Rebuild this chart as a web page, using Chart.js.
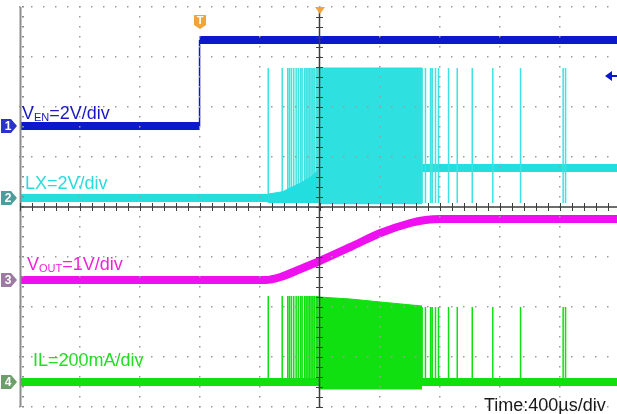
<!DOCTYPE html>
<html><head><meta charset="utf-8">
<script src="https://cdn.jsdelivr.net/npm/chart.js@4/dist/chart.umd.min.js"></script>
<style>
html,body{margin:0;padding:0;background:#fff;width:617px;height:414px;overflow:hidden;}
#wrap{position:relative;width:617px;height:414px;overflow:hidden;}
canvas{position:absolute;left:0;top:0;}
.lbl{position:absolute;font-family:"Liberation Sans",Arial,sans-serif;font-size:18px;white-space:nowrap;line-height:1;}
.lbl sub{font-size:11px;vertical-align:baseline;position:relative;top:2px;}
</style></head><body>
<div id="wrap">
<canvas id="c" width="620" height="414"></canvas>
<div class="lbl" style="left:22px;top:104px;color:#1818c8">V<sub>EN</sub>=2V/div</div>
<div class="lbl" style="left:25px;top:174px;color:#2adcdc">LX=2V/div</div>
<div class="lbl" style="left:27px;top:255px;color:#ee22d8">V<sub>OUT</sub>=1V/div</div>
<div class="lbl" style="left:33px;top:351px;color:#22dd22">IL=200mA/div</div>
<div class="lbl" style="left:484px;top:396px;color:#1a1a1a">Time:400µs/div</div>
</div>
<script>
// ---------------- data (time in µs, 400 µs/div) ----------------
// CH1  V_EN (V)
const enLevelsV = [0, 3.44];
const enEdgeUs = -803;
const enTrigLevelV = 2.0;
// CH2  LX (V)
const lxBaseV = [0, 1.2];              // before start-up / after settling
const lxSwingV = [-0.25, 5.2];         // switching valley / peak
const lxMoundUs = [-345, -250, -130, -60, -10];
const lxMoundV  = [0.16, 0.25, 0.6, 0.84, 1.12];
const denseUs = [-10, 680];            // continuous switching burst
const preSpikeUs = [-345, -252, -215, -203, -190, -175, -159, -145, -130, -119, -103, -92, -81, -70, -59, -48, -37, -25, -15];
const postSpikeUs = [681, 703, 737, 748, 770, 790, 857, 915, 1015, 1152, 1337, 1621, 1637];
// CH3  VOUT (V)
const voutUs = [-2000, -363, -263, -130, -3, 203, 403, 603, 703, 803, 2000];
const voutV  = [0, 0, 0.06, 0.22, 0.38, 0.66, 0.94, 1.14, 1.2, 1.22, 1.22];
// CH4  IL (mA)
const ilBaseMa = 0;
const ilDenseUs = [-10, 203, 403, 680];
const ilDensePeakMa = [340, 332, 320, 304];
const ilPrePeakMa = 344;
const ilPostPeakMa = 300;
const ilValleyMa = -30;

// ---------------- channel settings (scale/div and zero position in divisions) ----------------
const CH = {
  en:  {perDiv: 2,   zeroDiv: 1.62},
  lx:  {perDiv: 2,   zeroDiv: 0.18},
  out: {perDiv: 1,   zeroDiv: -1.46},
  il:  {perDiv: 200, zeroDiv: -3.5}
};
const COL = {en:'#0b18cc', lx:'#22dede', out:'#ee10ee', il:'#10e010'};

function yScale(c){ return {type:'linear', axis:'y', position:'left', display:false, min:(-4 - c.zeroDiv)*c.perDiv, max:(4 - c.zeroDiv)*c.perDiv}; }
function pts(xs, ys){ return xs.map((x,i)=>({x:x, y:ys[i]})); }
function spikes(times, lo, hi){
  const out=[]; times.forEach(t=>{ out.push({x:t,y:lo},{x:t,y:hi},{x:t,y:null}); }); return out;
}
const T0 = -2000, T1 = 2000;

const base = {pointRadius:0, pointHoverRadius:0, fill:false, borderCapStyle:'butt', spanGaps:false};

const datasets = [
  // CH1
  Object.assign({}, base, {label:'VEN', yAxisID:'yEN', borderColor:COL.en, borderWidth:8,
    data:[{x:T0,y:enLevelsV[0]},{x:enEdgeUs,y:enLevelsV[0]},{x:enEdgeUs,y:null},{x:enEdgeUs,y:enLevelsV[1]},{x:T1,y:enLevelsV[1]}]}),
  Object.assign({}, base, {label:'VEN edge', yAxisID:'yEN', borderColor:COL.en, borderWidth:1.5,
    data:[{x:enEdgeUs,y:enLevelsV[0]},{x:enEdgeUs,y:enLevelsV[1]}]}),
  // CH2
  Object.assign({}, base, {label:'LX', yAxisID:'yLX', borderColor:COL.lx, borderWidth:8,
    data:[{x:T0,y:lxBaseV[0]},{x:lxMoundUs[0],y:lxBaseV[0]}]}),
  Object.assign({}, base, {label:'LX mound', yAxisID:'yLX', borderColor:COL.lx, borderWidth:1, backgroundColor:COL.lx,
    fill:{value:-0.2}, data:pts(lxMoundUs, lxMoundV)}),
  Object.assign({}, base, {label:'LX burst', yAxisID:'yLX', borderColor:COL.lx, borderWidth:1, backgroundColor:'#2ee0e0',
    fill:{value:lxSwingV[0]}, data:[{x:denseUs[0],y:lxSwingV[1]},{x:denseUs[1],y:lxSwingV[1]}]}),
  Object.assign({}, base, {label:'LX pulses', yAxisID:'yLX', borderColor:'#3ee2e2', borderWidth:1.5,
    data:spikes(preSpikeUs.concat(postSpikeUs), -0.2, lxSwingV[1])}),
  Object.assign({}, base, {label:'LX after', yAxisID:'yLX', borderColor:COL.lx, borderWidth:8,
    data:[{x:denseUs[1],y:lxBaseV[1]},{x:T1,y:lxBaseV[1]}]}),
  // CH3
  Object.assign({}, base, {label:'VOUT', yAxisID:'yOUT', borderColor:COL.out, borderWidth:8, cubicInterpolationMode:'monotone',
    data:pts(voutUs, voutV)}),
  // CH4
  Object.assign({}, base, {label:'IL', yAxisID:'yIL', borderColor:COL.il, borderWidth:8,
    data:[{x:T0,y:ilBaseMa},{x:T1,y:ilBaseMa}]}),
  Object.assign({}, base, {label:'IL burst', yAxisID:'yIL', borderColor:COL.il, borderWidth:1, backgroundColor:COL.il,
    fill:{value:ilValleyMa}, data:pts(ilDenseUs, ilDensePeakMa)}),
  Object.assign({}, base, {label:'IL pre', yAxisID:'yIL', borderColor:COL.il, borderWidth:1.5,
    data:spikes(preSpikeUs, ilBaseMa, ilPrePeakMa)}),
  Object.assign({}, base, {label:'IL post', yAxisID:'yIL', borderColor:COL.il, borderWidth:1.5,
    data:spikes(postSpikeUs, ilBaseMa, ilPostPeakMa)})
];

// ---------------- oscilloscope graticule & markers ----------------
const graticule = {
  id:'graticule',
  afterDatasetsDraw(chart){
    const ctx=chart.ctx, xs=chart.scales.x, ys=chart.scales.grid;
    const a=chart.chartArea;
    ctx.save();
    ctx.fillStyle='#9c9c9c';
    for(let i=-4;i<=4;i++){
      if(i===0) continue;
      const px=Math.round(xs.getPixelForValue(i*400));
      for(let j=-20;j<=20;j++){ const py=Math.round(ys.getPixelForValue(j*0.2)); ctx.fillRect(px-1,py-1,1.5,1.5); }
    }
    for(let j=-4;j<=4;j++){
      if(j===0) continue;
      const py=Math.round(ys.getPixelForValue(j));
      for(let i=-25;i<=25;i++){ const px=Math.round(xs.getPixelForValue(i*80)); ctx.fillRect(px-1,py-1,1.5,1.5); }
    }
    ctx.strokeStyle='#8c8c8c'; ctx.lineWidth=2;
    ctx.beginPath(); ctx.moveTo(a.left+0.5,a.top); ctx.lineTo(a.left+0.5,a.bottom); ctx.stroke();
    ctx.fillStyle='#8c8c8c';
    for(let j=-20;j<=20;j++){ const py=Math.round(ys.getPixelForValue(j*0.2)); ctx.fillRect(a.left+2,py-1,2,1.5); }
    const cx=Math.round(xs.getPixelForValue(0))-0.5, cy=Math.round(ys.getPixelForValue(0));
    ctx.strokeStyle='#3c3c3c'; ctx.lineWidth=1.5;
    ctx.beginPath(); ctx.moveTo(cx,a.top); ctx.lineTo(cx,a.bottom); ctx.moveTo(a.left,cy); ctx.lineTo(a.right,cy); ctx.stroke();
    ctx.lineWidth=1;
    ctx.beginPath();
    for(let i=-25;i<=25;i++){ const px=Math.round(xs.getPixelForValue(i*80))+0.5; ctx.moveTo(px,cy-4); ctx.lineTo(px,cy+4); }
    for(let j=-20;j<=20;j++){ const py=Math.round(ys.getPixelForValue(j*0.2))+0.5; ctx.moveTo(cx-3.5,py); ctx.lineTo(cx+3.5,py); }
    ctx.stroke();
    ctx.restore();
  },
  afterDraw(chart){
    const ctx=chart.ctx, xs=chart.scales.x;
    ctx.save();
    const mk=[['yEN','1','#2a34c8'],['yLX','2','#4f9c9c'],['yOUT','3','#9c7aa2'],['yIL','4','#6c9e6c']];
    mk.forEach(m=>{
      const y=Math.round(chart.scales[m[0]].getPixelForValue(0));
      ctx.fillStyle=m[2];
      ctx.beginPath(); ctx.moveTo(1,y-7); ctx.lineTo(11,y-7); ctx.lineTo(17,y); ctx.lineTo(11,y+7); ctx.lineTo(1,y+7); ctx.closePath(); ctx.fill();
      ctx.fillStyle='#ffffff'; ctx.font='bold 12px "Liberation Sans",Arial,sans-serif';
      ctx.textAlign='center'; ctx.textBaseline='middle'; ctx.fillText(m[1],8,y+1);
    });
    const tx=Math.round(xs.getPixelForValue(enEdgeUs));
    ctx.fillStyle='#f0a43a';
    ctx.beginPath(); ctx.moveTo(tx-6,15); ctx.lineTo(tx+6,15); ctx.lineTo(tx+6,25); ctx.lineTo(tx,29); ctx.lineTo(tx-6,25); ctx.closePath(); ctx.fill();
    ctx.fillStyle='#ffffff'; ctx.font='bold 11px "Liberation Sans",Arial,sans-serif';
    ctx.textAlign='center'; ctx.textBaseline='middle'; ctx.fillText('T',tx,21);
    const cx=Math.round(xs.getPixelForValue(0));
    ctx.fillStyle='#f0a43a';
    ctx.beginPath(); ctx.moveTo(cx-5,7); ctx.lineTo(cx+5,7); ctx.lineTo(cx,14); ctx.closePath(); ctx.fill();
    const ty=Math.round(chart.scales.yEN.getPixelForValue(enTrigLevelV));
    ctx.fillStyle=COL.en; ctx.strokeStyle=COL.en; ctx.lineWidth=2;
    ctx.beginPath(); ctx.moveTo(605,ty); ctx.lineTo(612,ty-5); ctx.lineTo(612,ty+5); ctx.closePath(); ctx.fill();
    ctx.beginPath(); ctx.moveTo(610,ty); ctx.lineTo(617,ty); ctx.stroke();
    ctx.restore();
  }
};

new Chart(document.getElementById('c'), {
  type:'line',
  data:{datasets:datasets},
  options:{
    responsive:false, animation:false, events:[],
    layout:{padding:{left:20, right:0, top:7, bottom:7}},
    plugins:{legend:{display:false}, tooltip:{enabled:false}},
    scales:{
      x:{type:'linear', axis:'x', position:'bottom', display:false, min:T0, max:T1},
      grid:{type:'linear', axis:'y', position:'left', display:false, min:-4, max:4},
      yEN:yScale(CH.en), yLX:yScale(CH.lx), yOUT:yScale(CH.out), yIL:yScale(CH.il)
    }
  },
  plugins:[graticule]
});
</script>
</body></html>
